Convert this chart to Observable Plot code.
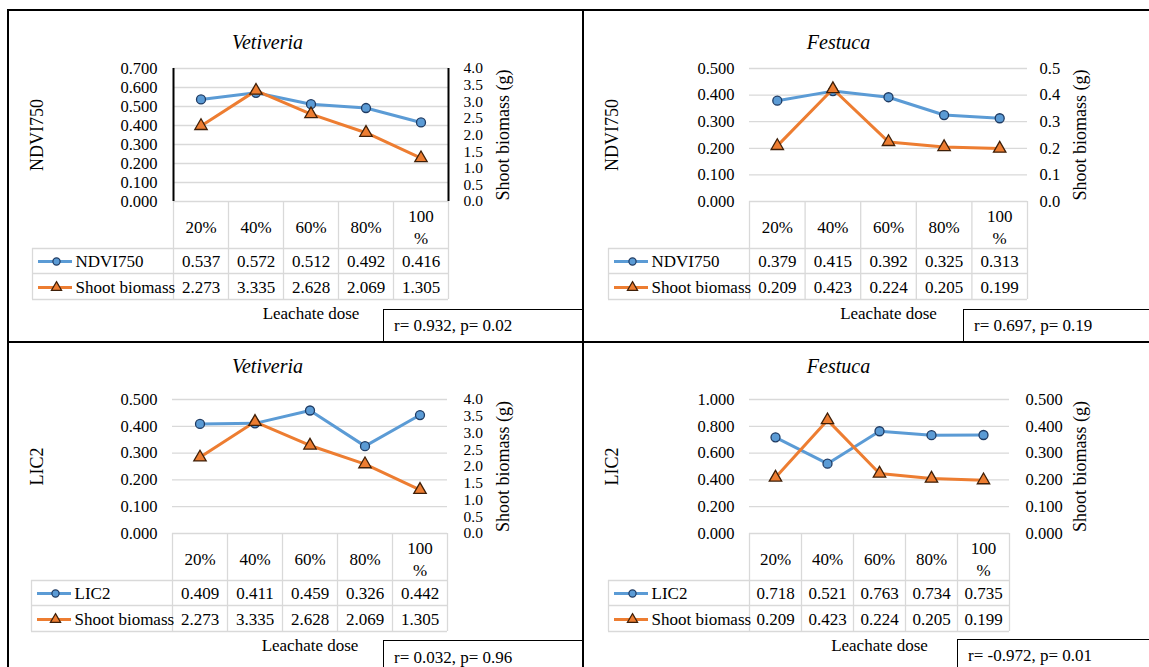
<!DOCTYPE html>
<html><head><meta charset="utf-8">
<script src="https://cdn.jsdelivr.net/npm/d3@7"></script>
<script src="https://cdn.jsdelivr.net/npm/@observablehq/plot@0.6"></script>
<style>
body{margin:0;background:#fff;}
#root{position:relative;width:1149px;height:667px;overflow:hidden;background:#fff;}
.panel{position:absolute;}
.bline{position:absolute;background:#000;z-index:5;}
.rbox{position:absolute;border:1px solid #000;background:#fff;font-size:17px;box-sizing:border-box;padding-left:10px;display:flex;align-items:center;z-index:4;white-space:nowrap;}
</style></head>
<body><div id="root"></div>
<script>
// ---- data ----
const categories = ["20%", "40%", "60%", "80%", "100%"];
const vetNDVI750 = [0.537, 0.572, 0.512, 0.492, 0.416];
const vetBiomass = [2.273, 3.335, 2.628, 2.069, 1.305];
const fesNDVI750 = [0.379, 0.415, 0.392, 0.325, 0.313];
const fesBiomass = [0.209, 0.423, 0.224, 0.205, 0.199];
const vetLIC2 = [0.409, 0.411, 0.459, 0.326, 0.442];
const fesLIC2 = [0.718, 0.521, 0.763, 0.734, 0.735];
const stats = ["r= 0.932, p= 0.02", "r= 0.697, p= 0.19", "r= 0.032, p= 0.96", "r= -0.972, p= 0.01"];
const ticksVetNDVI = [0, 0.1, 0.2, 0.3, 0.4, 0.5, 0.6, 0.7];
const ticksFesNDVI = [0, 0.1, 0.2, 0.3, 0.4, 0.5];
const ticksVetLIC2 = [0, 0.1, 0.2, 0.3, 0.4, 0.5];
const ticksFesLIC2 = [0, 0.2, 0.4, 0.6, 0.8, 1.0];
const ticksVetBiomass = [0, 0.5, 1.0, 1.5, 2.0, 2.5, 3.0, 3.5, 4.0];
const ticksFesBiomass = [0, 0.1, 0.2, 0.3, 0.4, 0.5];

// ---- style ----
const BLUE = "#5B9BD5", ORANGE = "#ED7D31", BLUE_EDGE = "#1F3B63", ORANGE_EDGE = "#3E1F08", GRID = "#d9d9d9";
const FONT = "Liberation Serif";

const panels = [
  {title: "Vetiveria", yLabel: "NDVI750", primary: vetNDVI750, biomass: vetBiomass,
   leftTicks: ticksVetNDVI, leftDec: 3, rightTicks: ticksVetBiomass, rightDec: 1, rightFont: 15.5, stat: stats[0],
   box: {l: 8, t: 10, w: 575, h: 332}, frame: {l: 173, r: 448, t: 68, b: 201},
   titleX: 267, titleY: 42, axisLines: true, leftPad: 16, rightPad: 15, yTitleX: 37, rTitleX: 503,
   rbox: {x: 383, y: 309, w: 200, h: 34}},
  {title: "Festuca", yLabel: "NDVI750", primary: fesNDVI750, biomass: fesBiomass,
   leftTicks: ticksFesNDVI, leftDec: 3, rightTicks: ticksFesBiomass, rightDec: 1, rightFont: 16.5, stat: stats[1],
   box: {l: 583, t: 10, w: 566, h: 332}, frame: {l: 749, r: 1027, t: 68, b: 201},
   titleX: 838, titleY: 42, axisLines: false, leftPad: 15, rightPad: 12, yTitleX: 612, rTitleX: 1080,
   rbox: {x: 963, y: 309, w: 200, h: 34}},
  {title: "Vetiveria", yLabel: "LIC2", primary: vetLIC2, biomass: vetBiomass,
   leftTicks: ticksVetLIC2, leftDec: 3, rightTicks: ticksVetBiomass, rightDec: 1, rightFont: 15.5, stat: stats[2],
   box: {l: 8, t: 342, w: 575, h: 325}, frame: {l: 172, r: 447, t: 399, b: 533},
   titleX: 267, titleY: 366, axisLines: false, leftPad: 15, rightPad: 16, yTitleX: 37, rTitleX: 503,
   rbox: {x: 383, y: 640, w: 200, h: 36}},
  {title: "Festuca", yLabel: "LIC2", primary: fesLIC2, biomass: fesBiomass,
   leftTicks: ticksFesLIC2, leftDec: 3, rightTicks: ticksFesBiomass, rightDec: 3, rightFont: 16.5, stat: stats[3],
   box: {l: 583, t: 342, w: 566, h: 325}, frame: {l: 749, r: 1009, t: 399, b: 533},
   titleX: 838, titleY: 366, axisLines: false, leftPad: 15, rightPad: 16, yTitleX: 612, rTitleX: 1080,
   rbox: {x: 957, y: 639, w: 200, h: 34}}
];

const root = document.getElementById("root");
root.style.fontFamily = FONT;
const wrapLabel = d => d.length > 3 ? d.slice(0, -1) + "\n" + d.slice(-1) : d;

function makePanel(p) {
  const W = p.box.w, H = p.box.h;
  const fl = p.frame.l - p.box.l, fr = p.frame.r - p.box.l, ft = p.frame.t - p.box.t, fb = p.frame.b - p.box.t;
  const n = categories.length;
  const colW = (fr - fl) / n;
  const leftMax = p.leftTicks[p.leftTicks.length - 1];
  const rightMax = p.rightTicks[p.rightTicks.length - 1];
  const k = leftMax / rightMax;
  const frameH = fb - ft;
  const X = px => -0.5 + (px - fl) / colW;           // panel px -> x units
  const Yb = off => -off * leftMax / frameH;          // px below frame bottom -> y units
  const Y = py => (fb - py) * leftMax / frameH;       // panel px -> y units
  const idx = d3.range(n);
  const s1 = idx.map(i => ({i, v: p.primary[i]}));
  const s2 = idx.map(i => ({i, v: p.biomass[i] * k}));
  const legL = fl - 141;
  const rowsY = [Yb(47), Yb(72), Yb(98)];
  const T = {fontFamily: FONT, fill: "#000"};

  const marks = [
    Plot.gridY(p.leftTicks.filter(t => t > 0), {stroke: GRID, strokeOpacity: 1, strokeWidth: 1.3}),
    // table grid
    Plot.ruleX(d3.range(n + 1).map(j => j - 0.5), {y1: () => 0, y2: () => Yb(98), stroke: GRID, strokeWidth: 1.3}),
    Plot.ruleX([X(legL)], {y1: () => Yb(47), y2: () => Yb(98), stroke: GRID, strokeWidth: 1.3}),
    Plot.ruleY([0], {x1: () => -0.5, x2: () => n - 0.5, stroke: GRID, strokeWidth: 1.3}),
    Plot.ruleY(rowsY, {x1: () => X(legL), x2: () => n - 0.5, stroke: GRID, strokeWidth: 1.3}),
    p.axisLines ? Plot.ruleX([-0.5, n - 0.5], {y1: () => 0, y2: () => leftMax, stroke: "#000", strokeWidth: 2}) : null,
    // axes
    Plot.axisY(p.leftTicks, {anchor: "left", tickSize: 0, tickPadding: p.leftPad, label: null, fontSize: 16.5, ...T,
      tickFormat: d => d.toFixed(p.leftDec)}),
    Plot.axisY(p.rightTicks.map(t => t * k), {anchor: "right", tickSize: 0, tickPadding: p.rightPad, label: null,
      fontSize: p.rightFont, ...T, tickFormat: d => (d / k).toFixed(p.rightDec)}),
    Plot.text([p.yLabel], {x: () => X(p.yTitleX - p.box.l), y: () => leftMax / 2, rotate: -90, fontSize: 18, ...T}),
    Plot.text(["Shoot biomass (g)"], {x: () => X(p.rTitleX - p.box.l), y: () => leftMax / 2, rotate: -90, fontSize: 18, ...T}),
    Plot.text([p.title], {x: () => X(p.titleX - p.box.l), y: () => Y(p.titleY - p.box.t), fontStyle: "italic", fontSize: 20, ...T}),
    // series
    Plot.line(s1, {x: "i", y: "v", stroke: BLUE, strokeWidth: 3}),
    Plot.dot(s1, {x: "i", y: "v", r: 4.5, fill: BLUE, stroke: BLUE_EDGE, strokeWidth: 1.3}),
    Plot.line(s2, {x: "i", y: "v", stroke: ORANGE, strokeWidth: 3}),
    Plot.dot(s2, {x: "i", y: "v", r: 4.6, symbol: "triangle", fill: ORANGE, stroke: ORANGE_EDGE, strokeWidth: 1.3}),
    // data table
    Plot.text(idx, {x: i => i, y: () => Yb(24), text: i => wrapLabel(categories[i]), fontSize: 17, lineHeight: 1.3, ...T}),
    Plot.text(idx, {x: i => i, y: () => Yb(60), text: i => p.primary[i].toFixed(3), fontSize: 17, ...T}),
    Plot.text(idx, {x: i => i, y: () => Yb(86), text: i => p.biomass[i].toFixed(3), fontSize: 17, ...T}),
    Plot.ruleY([Yb(60)], {x1: () => X(legL + 6), x2: () => X(legL + 40), stroke: BLUE, strokeWidth: 3}),
    Plot.dot([0], {x: () => X(legL + 24), y: () => Yb(60), r: 3.6, fill: BLUE, stroke: BLUE_EDGE, strokeWidth: 1.2}),
    Plot.text([p.yLabel], {x: () => X(legL + 43), y: () => Yb(60), textAnchor: "start", fontSize: 17, ...T}),
    Plot.ruleY([Yb(86)], {x1: () => X(legL + 6), x2: () => X(legL + 40), stroke: ORANGE, strokeWidth: 3}),
    Plot.dot([0], {x: () => X(legL + 24), y: () => Yb(86), r: 3.8, symbol: "triangle", fill: ORANGE, stroke: ORANGE_EDGE, strokeWidth: 1.2}),
    Plot.text(["Shoot biomass"], {x: () => X(legL + 43), y: () => Yb(86), textAnchor: "start", fontSize: 17, ...T}),
    Plot.text(["Leachate dose"], {x: () => (n - 1) / 2, y: () => Yb(112), fontSize: 17, ...T})
  ].filter(Boolean);

  const svg = Plot.plot({
    width: W, height: H,
    marginLeft: fl, marginRight: W - fr, marginTop: ft, marginBottom: H - fb,
    x: {type: "linear", domain: [-0.5, n - 0.5], axis: null},
    y: {type: "linear", domain: [0, leftMax], axis: null},
    style: {fontFamily: FONT, fontSize: "16.5px", background: "transparent", overflow: "visible", color: "#000"},
    marks
  });
  svg.setAttribute("font-family", FONT);
  svg.style.fontFamily = FONT;
  const div = document.createElement("div");
  div.className = "panel";
  div.style.left = p.box.l + "px"; div.style.top = p.box.t + "px";
  div.style.width = W + "px"; div.style.height = H + "px";
  div.appendChild(svg);
  root.appendChild(div);

  const rb = document.createElement("div");
  rb.className = "rbox";
  rb.style.fontFamily = FONT;
  rb.style.left = p.rbox.x + "px"; rb.style.top = p.rbox.y + "px";
  rb.style.width = p.rbox.w + "px"; rb.style.height = p.rbox.h + "px";
  rb.textContent = p.stat;
  root.appendChild(rb);
}
panels.forEach(makePanel);

// panel frame lines
[[7, 9, 1150, 2], [7, 9, 2, 660], [7, 341, 1150, 2], [582, 9, 2, 660]].forEach(([l, t, w, h]) => {
  const d = document.createElement("div");
  d.className = "bline";
  Object.assign(d.style, {left: l + "px", top: t + "px", width: w + "px", height: h + "px"});
  root.appendChild(d);
});
</script>
</body></html>
